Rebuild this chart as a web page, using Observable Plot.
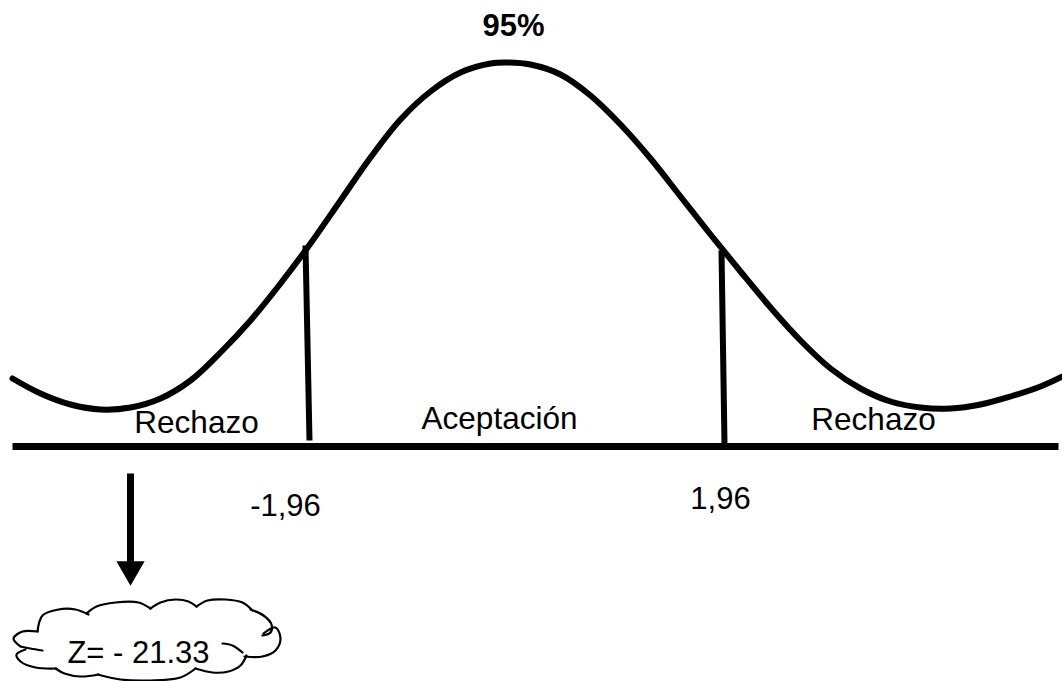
<!DOCTYPE html>
<html>
<head>
<meta charset="utf-8">
<script src="https://cdn.jsdelivr.net/npm/d3@7"></script>
<script src="https://cdn.jsdelivr.net/npm/@observablehq/plot@0.6"></script>
<style>
  html, body { margin: 0; padding: 0; background: #fff; }
  svg { display: block; }
</style>
</head>
<body>
<script>
// Bell curve (pixel-like coordinates, y downward)
const curveX = [12, 40, 70, 100, 130, 160, 190, 220, 250, 280, 310, 340, 370, 400, 430, 460, 490, 508, 530, 560, 590, 620, 650, 680, 710, 740, 770, 800, 830, 860, 890, 920, 950, 980, 1010, 1040, 1062];
const curveY = [378, 393, 404, 409, 407, 398, 380, 352, 320, 283, 243, 200, 157, 119, 91, 72, 63, 62, 64, 74, 95, 124, 158, 196, 234, 271, 307, 340, 368, 388, 401, 407, 408, 404, 396, 386, 376];

// Horizontal axis line
const axisX = [12, 1058];
const axisY = [446, 446];

// Critical value cut lines
const cutTopX = [305, 721];
const cutTopY = [245, 250];
const cutBottomX = [309, 724];
const cutBottomY = [440, 443];

// Region labels
const regionLabels = ["Rechazo", "Aceptación", "Rechazo"];
const regionX = [196, 499, 873];
const regionY = [432, 428, 429];

// Critical value labels
const criticalLabels = ["-1,96", "1,96"];
const criticalX = [285, 720];
const criticalY = [515, 508];

// Title
const titleLabel = ["95%"];
const titleX = [513];
const titleY = [35];

// Arrow
const arrowX = [130];
const arrowTop = [473];
const arrowBottom = [562];
const arrowHeadY = [569];

// Cloud callout
const cloudText = ["Z= - 21.33"];
const cloudTextX = [138];
const cloudTextY = [662];
const cloudPieces = [
  [[37,631],[42,615],[58,609],[75,609],[88,614]],
  [[86,613],[96,606],[115,602],[138,602],[150,608]],
  [[150,608],[160,602],[175,599],[188,601],[196,606]],
  [[196,606],[207,600],[225,599],[242,602],[252,610]],
  [[250,609],[263,615],[271,624],[270,632],[262,635]],
  [[263,633],[275,627],[280,638],[275,650],[262,656],[244,656]],
  [[222,643],[232,645],[242,652]],
  [[246,655],[240,665],[228,671],[212,672],[195,668]],
  [[195,668],[180,677],[150,680],[120,679],[97,674]],
  [[98,674],[80,676],[64,673],[55,668]],
  [[56,668],[35,667],[20,661],[16,654],[25,649]],
  [[20,646],[30,648],[42,650]],
  [[37,631],[22,631],[13,638],[20,646]]
];
const cloudData = cloudPieces.flatMap((pts, i) => pts.map(([x, y]) => ({x, y, id: i})));

const curve = curveX.map((x, i) => ({x, y: curveY[i]}));
const axisLine = axisX.map((x, i) => ({x, y: axisY[i]}));
const cuts = cutTopX.map((x, i) => ({x1: x, y1: cutTopY[i], x2: cutBottomX[i], y2: cutBottomY[i]}));
const regions = regionLabels.map((t, i) => ({t, x: regionX[i], y: regionY[i]}));
const crit = criticalLabels.map((t, i) => ({t, x: criticalX[i], y: criticalY[i]}));
const title = titleLabel.map((t, i) => ({t, x: titleX[i], y: titleY[i]}));
const arrow = arrowX.map((x, i) => ({x, y1: arrowTop[i], y2: arrowBottom[i], yh: arrowHeadY[i]}));
const cloudLabel = cloudText.map((t, i) => ({t, x: cloudTextX[i], y: cloudTextY[i]}));

const font = "'Liberation Sans', Arial, sans-serif";

const chart = Plot.plot({
  width: 1062,
  height: 681,
  margin: 0,
  x: {domain: [0, 1062], range: [0, 1062], axis: null},
  y: {domain: [0, 681], range: [0, 681], axis: null},
  style: {fontFamily: font, background: "#fff"},
  marks: [
    Plot.line(curve, {x: "x", y: "y", curve: "catmull-rom", stroke: "black", strokeWidth: 6}),
    Plot.line(axisLine, {x: "x", y: "y", stroke: "black", strokeWidth: 7, strokeLinecap: "butt"}),
    Plot.link(cuts, {x1: "x1", y1: "y1", x2: "x2", y2: "y2", stroke: "black", strokeWidth: 6}),
    Plot.text(regions, {x: "x", y: "y", text: "t", fontSize: 31.5, lineAnchor: "bottom", fill: "black"}),
    Plot.text(crit, {x: "x", y: "y", text: "t", fontSize: 31, lineAnchor: "bottom", fill: "black"}),
    Plot.text(title, {x: "x", y: "y", text: "t", fontSize: 31, fontWeight: "bold", lineAnchor: "bottom", fill: "black"}),
    Plot.link(arrow, {x1: "x", x2: "x", y1: "y1", y2: "y2", stroke: "black", strokeWidth: 7}),
    Plot.dot(arrow, {x: "x", y: "yh", symbol: "triangle", r: 10.5, rotate: 180, fill: "black", stroke: "none"}),
    Plot.line(cloudData, {x: "x", y: "y", z: "id", curve: "catmull-rom", stroke: "black", strokeWidth: 2.2}),
    Plot.text(cloudLabel, {x: "x", y: "y", text: "t", fontSize: 31, lineAnchor: "bottom", fill: "black"})
  ]
});
document.body.appendChild(chart);
</script>
</body>
</html>
